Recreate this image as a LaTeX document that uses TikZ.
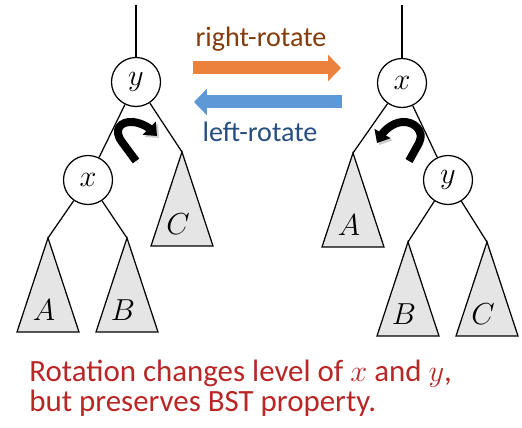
\documentclass[tikz,border=0pt]{standalone}
\usepackage{fontspec}
\setmainfont{Carlito}
\usetikzlibrary{arrows.meta, calc}
\definecolor{rotorange}{RGB}{234,130,62}
\definecolor{rotblue}{RGB}{95,152,214}
\definecolor{righttxt}{RGB}{132,60,12}
\definecolor{lefttxt}{RGB}{38,78,128}
\definecolor{notered}{RGB}{185,38,38}
\tikzset{
	keynode/.style={circle, draw, line width=0.7pt, fill=white, minimum size=0.98cm, inner sep=0pt, font=\fontsize{18}{20}\selectfont},
	subtree/.style={draw, fill=black!10, line width=0.7pt},
	link/.style={line width=0.7pt},
	treelabel/.style={font=\fontsize{18}{20}\selectfont},
	bigarrow/.style={line width=0.26cm, -{Triangle[length=0.26cm, width=0.52cm]}},
	turnarrow/.style={line width=0.16cm, -{Triangle[length=0.22cm, width=0.36cm]}, preaction={draw=black!20, transform canvas={shift={(1.2pt,-1.2pt)}}}},
	opname/.style={font=\fontsize{16}{19}\selectfont, anchor=base},
	note/.style={font=\fontsize{17.6}{20}\selectfont, text=notered, anchor=base west, inner sep=0pt},
}
\begin{document}
\begin{tikzpicture}[x=0.02cm, y=-0.02cm]
	\useasboundingbox (0,0) rectangle (522,428);
	% subtrees
	\foreach \n/\x/\y/\l in {aL/48/238/A, bL/127/238/B, cL/182/152/C, aR/353/153/A, bR/408/242/B, cR/487/242/C}{
		\coordinate (\n) at (\x,\y);
		\draw[subtree] (\n) -- ++(-31,94) -- ++(62,0) -- cycle;
		\node[treelabel] (lbl\n) at ($(\n)+(-4,72)$) {$\l$};
	}
	% left tree
	\coordinate (topL) at (136,5);
	\node[keynode] (yL) at (136,82) {$y$};
	\node[keynode] (xL) at (88,180) {$x$};
	\draw[link] (topL) -- (yL);
	\draw[link] (yL) -- (xL);
	\draw[link] (yL) -- (cL);
	\draw[link] (xL) -- (aL);
	\draw[link] (xL) -- (bL);
	% right tree
	\coordinate (topR) at (402,5);
	\node[keynode] (xR) at (402,83) {$x$};
	\node[keynode] (yR) at (448,180) {$y$};
	\draw[link] (topR) -- (xR);
	\draw[link] (xR) -- (aR);
	\draw[link] (xR) -- (yR);
	\draw[link] (yR) -- (bR);
	\draw[link] (yR) -- (cR);
	% turn arrows
	\draw[turnarrow] (136,161) -- (122,142) .. controls (113,130) and (120,121) .. (133,122) .. controls (142,123) and (149,128) .. (157,136);
	\draw[turnarrow] (409,161) -- (419,143) .. controls (425,131) and (414,121) .. (402,122) .. controls (392,123) and (384,131) .. (377,143);
	% operations
	\coordinate (rs) at (193,68);
	\coordinate (re) at (341,68);
	\coordinate (ls) at (342,102);
	\coordinate (le) at (194,102);
	\draw[bigarrow, rotorange] (rs) -- (re);
	\draw[bigarrow, rotblue] (ls) -- (le);
	\node[opname, text=righttxt] (rlab) at (261,47) {right-rotate};
	\node[opname, text=lefttxt] (llab) at (260,142) {left-rotate};
	% note
	\node[note] (note1) at (29,382) {Rotation changes level of $x$ and $y$,};
	\node[note] (note2) at (29,412) {but preserves BST property.};
\end{tikzpicture}
\end{document}
